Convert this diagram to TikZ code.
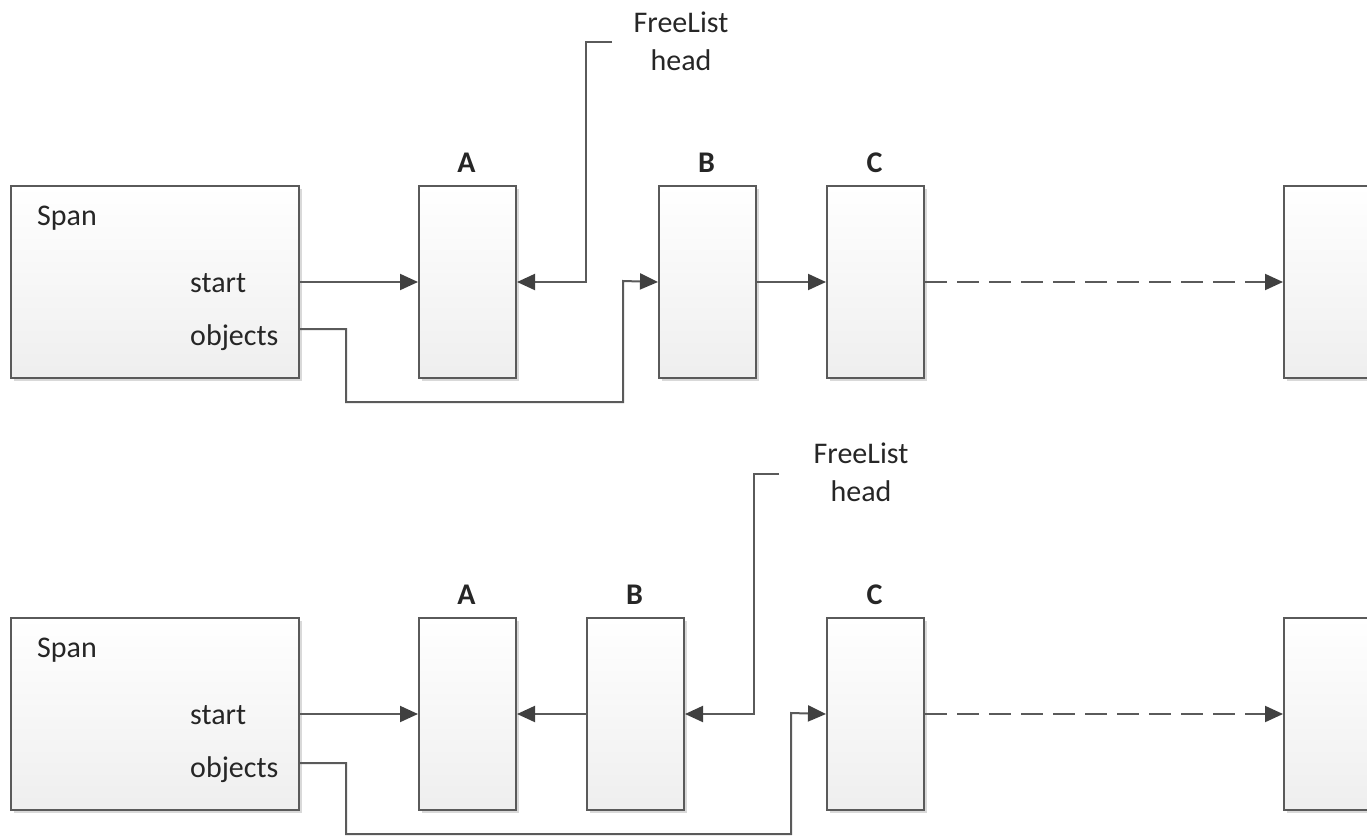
\documentclass[tikz,border=0pt]{standalone}
\usepackage{fontspec}
\setmainfont{Carlito}
\usetikzlibrary{arrows.meta,shadows}
\definecolor{edgegray}{HTML}{5A5A5A}
\definecolor{tipgray}{HTML}{404040}
\definecolor{txtgray}{HTML}{262626}
\tikzset{
  x=1pt, y=-1pt,
  every node/.style={font=\fontsize{30}{38}\selectfont, text=txtgray, inner sep=0pt},
  membox/.style={draw=edgegray, line width=2pt, top color=white, bottom color=gray!13,
    anchor=north west, minimum height=192pt,
    drop shadow={shadow xshift=3pt, shadow yshift=-3pt, opacity=0.15, fill=black}},
  spanbox/.style={membox, minimum width=288pt},
  objbox/.style={membox, minimum width=97pt},
  lbl/.style={font=\bfseries\fontsize{30}{38}\selectfont, anchor=base},
  conn/.style={draw=edgegray, line width=2pt},
  arr/.style={conn, -{Triangle[length=18pt,width=16pt,color=tipgray,fill=tipgray]}},
  dasharr/.style={arr, dash pattern=on 22pt off 10pt},
}
\begin{document}
\begin{tikzpicture}
\useasboundingbox (0,0) rectangle (1367,835);
\clip (0,0) rectangle (1367,835);

% ---------- top row ----------
\node[spanbox] (span1) at (10,185) {};
\node[anchor=base west] (spant1) at (37,225) {Span};
\node[anchor=base west] (st1) at (190,292) {start};
\node[anchor=base west] (ob1) at (190,345) {objects};

\node[objbox] (A1) at (418,185) {};
\node[objbox] (B1) at (658,185) {};
\node[objbox] (C1) at (826,185) {};
\node[membox, minimum width=110pt] (R1) at (1283,185) {};
\node[lbl] (la1) at (466.5,172) {A};
\node[lbl] (lb1) at (706.5,172) {B};
\node[lbl] (lc1) at (874.5,172) {C};

\node[align=center, anchor=base] (fl1) at (681,70) {FreeList\\head};
\coordinate (h1) at (612,42);

\draw[arr] (span1.east) -- (A1.west);
\draw[arr] (h1) -- (586,42) |- (A1.east);
\coordinate (o1) at (span1.east |- 0,329);
\draw[arr] (o1) -| (346,402) -| (623,281) -- (B1.west);
\draw[arr] (B1.east) -- (C1.west);
\draw[dasharr] (C1.east) -- (R1.west);

% ---------- bottom row ----------
\node[spanbox] (span2) at (10,617) {};
\node[anchor=base west] (spant2) at (37,657) {Span};
\node[anchor=base west] (st2) at (190,724) {start};
\node[anchor=base west] (ob2) at (190,777) {objects};

\node[objbox] (A2) at (418,617) {};
\node[objbox] (B2) at (586,617) {};
\node[objbox] (C2) at (826,617) {};
\node[membox, minimum width=110pt] (R2) at (1283,617) {};
\node[lbl] (la2) at (466.5,604) {A};
\node[lbl] (lb2) at (634.5,604) {B};
\node[lbl] (lc2) at (874.5,604) {C};

\node[align=center, anchor=base] (fl2) at (861,501) {FreeList\\head};
\coordinate (h2) at (779,474);

\draw[arr] (span2.east) -- (A2.west);
\draw[arr] (B2.west) -- (A2.east);
\draw[arr] (h2) -- (754,474) |- (B2.east);
\coordinate (o2) at (span2.east |- 0,763);
\draw[arr] (o2) -| (346,834) -| (791,713) -- (C2.west);
\draw[dasharr] (C2.east) -- (R2.west);
\end{tikzpicture}
\end{document}
